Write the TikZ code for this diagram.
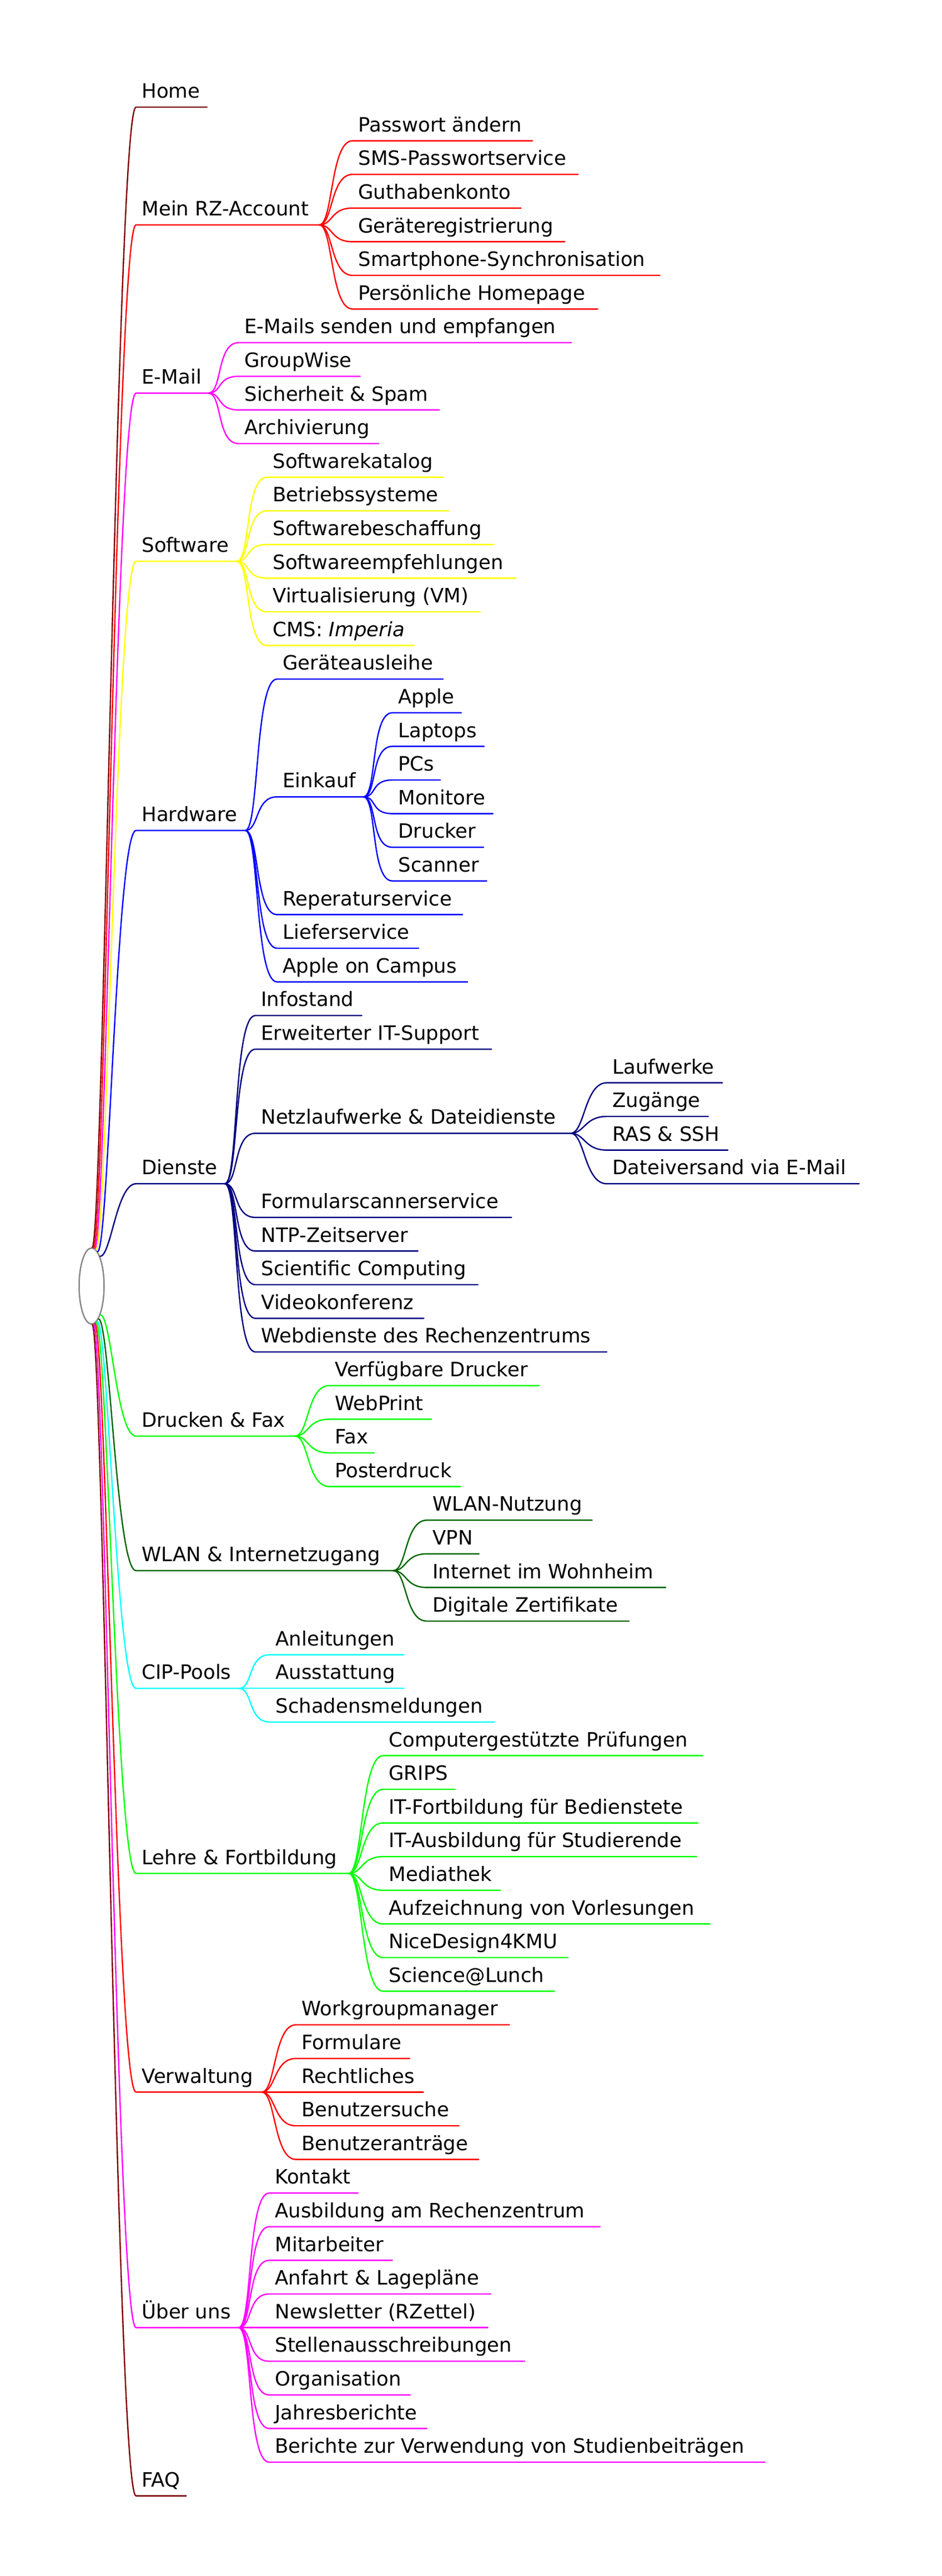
\documentclass[tikz,border=0pt]{standalone}
\usepackage{fontspec}
\setmainfont{DejaVu Sans}
\usetikzlibrary{shapes.geometric}
\definecolor{cMar}{HTML}{800000}
\definecolor{cRed}{HTML}{FF0000}
\definecolor{cMag}{HTML}{FF00FF}
\definecolor{cYel}{HTML}{FFFF00}
\definecolor{cBlu}{HTML}{0000FF}
\definecolor{cNav}{HTML}{000080}
\definecolor{cLim}{HTML}{00FF00}
\definecolor{cDkg}{HTML}{006600}
\definecolor{cCya}{HTML}{00FFFF}
\definecolor{cGry}{HTML}{888888}
\newbox\mmbx
\begin{document}
\begin{tikzpicture}[x=0.5pt, y=-30.3pt,
  mm/.style={anchor=south west, inner xsep=0pt, inner ysep=0pt, text height=14pt, text depth=8pt,
    font=\fontsize{17.8pt}{21pt}\selectfont,
    execute at begin node={\setbox\mmbx=\hbox\bgroup},
    execute at end node={\egroup\hspace*{5pt}\copy\mmbx\hspace*{\dimexpr 4.2pt+0.034\wd\mmbx\relax}}},
  ln/.style={line width=1.2pt, line cap=round, line join=round},
  cfork/.style={to path={.. controls +(25,0) and +(-40,0) .. (\tikztotarget)}},
  rfork/.style={to path={.. controls +(20,0) and +(-35,0) .. (\tikztotarget)}}]
\useasboundingbox (0,-3.185) rectangle (1697,73.383);
% level 1
\node[mm] (home) at (245,0) {Home};
\node[mm] (mein) at (245,3.5) {Mein RZ-Account};
\node[mm] (email) at (245,8.5) {E-Mail};
\node[mm] (soft) at (245,13.5) {Software};
\node[mm] (hard) at (245,21.5) {Hardware};
\node[mm] (dien) at (245,32) {Dienste};
\node[mm] (druck) at (245,39.5) {Drucken \& Fax};
\node[mm] (wlan) at (245,43.5) {WLAN \& Internetzugang};
\node[mm] (cip) at (245,47) {CIP-Pools};
\node[mm] (lehre) at (245,52.5) {Lehre \& Fortbildung};
\node[mm] (verw) at (245,59) {Verwaltung};
\node[mm] (ueber) at (245,66) {Über uns};
\node[mm] (faq) at (245,71) {FAQ};
% Mein RZ-Account
\node[mm] (pw) at (635,1) {Passwort ändern};
\node[mm] (sms) at (635,2) {SMS-Passwortservice};
\node[mm] (gut) at (635,3) {Guthabenkonto};
\node[mm] (ger) at (635,4) {Geräteregistrierung};
\node[mm] (smart) at (635,5) {Smartphone-Synchronisation};
\node[mm] (hp) at (635,6) {Persönliche Homepage};
% E-Mail
\node[mm] (em1) at (430,7) {E-Mails senden und empfangen};
\node[mm] (em2) at (430,8) {GroupWise};
\node[mm] (em3) at (430,9) {Sicherheit \& Spam};
\node[mm] (em4) at (430,10) {Archivierung};
% Software
\node[mm] (sw1) at (481,11) {Softwarekatalog};
\node[mm] (sw2) at (481,12) {Betriebssysteme};
\node[mm] (sw3) at (481,13) {Softwarebeschaffung};
\node[mm] (sw4) at (481,14) {Softwareempfehlungen};
\node[mm] (sw5) at (481,15) {Virtualisierung (VM)};
\node[mm] (sw6) at (481,16) {CMS: \textit{Imperia}};
% Hardware
\node[mm] (hw1) at (499,17) {Geräteausleihe};
\node[mm] (ek) at (499,20.5) {Einkauf};
\node[mm] (hw3) at (499,24) {Reperaturservice};
\node[mm] (hw4) at (499,25) {Lieferservice};
\node[mm] (hw5) at (499,26) {Apple on Campus};
\node[mm] (ek1) at (707,18) {Apple};
\node[mm] (ek2) at (707,19) {Laptops};
\node[mm] (ek3) at (707,20) {PCs};
\node[mm] (ek4) at (707,21) {Monitore};
\node[mm] (ek5) at (707,22) {Drucker};
\node[mm] (ek6) at (707,23) {Scanner};
% Dienste
\node[mm] (dn1) at (460,27) {Infostand};
\node[mm] (dn2) at (460,28) {Erweiterter IT-Support};
\node[mm] (netz) at (460,30.5) {Netzlaufwerke \& Dateidienste};
\node[mm] (dn4) at (460,33) {Formularscannerservice};
\node[mm] (dn5) at (460,34) {NTP-Zeitserver};
\node[mm] (dn6) at (460,35) {Scientific Computing};
\node[mm] (dn7) at (460,36) {Videokonferenz};
\node[mm] (dn8) at (460,37) {Webdienste des Rechenzentrums};
\node[mm] (nz1) at (1093,29) {Laufwerke};
\node[mm] (nz2) at (1093,30) {Zugänge};
\node[mm] (nz3) at (1093,31) {RAS \& SSH};
\node[mm] (nz4) at (1093,32) {Dateiversand via E-Mail};
% Drucken & Fax
\node[mm] (dr1) at (593,38) {Verfügbare Drucker};
\node[mm] (dr2) at (593,39) {WebPrint};
\node[mm] (dr3) at (593,40) {Fax};
\node[mm] (dr4) at (593,41) {Posterdruck};
% WLAN
\node[mm] (wl1) at (769,42) {WLAN-Nutzung};
\node[mm] (wl2) at (769,43) {VPN};
\node[mm] (wl3) at (769,44) {Internet im Wohnheim};
\node[mm] (wl4) at (769,45) {Digitale Zertifikate};
% CIP
\node[mm] (cp1) at (486,46) {Anleitungen};
\node[mm] (cp2) at (486,47) {Ausstattung};
\node[mm] (cp3) at (486,48) {Schadensmeldungen};
% Lehre
\node[mm] (le1) at (690,49) {Computergestützte Prüfungen};
\node[mm] (le2) at (690,50) {GRIPS};
\node[mm] (le3) at (690,51) {IT-Fortbildung für Bedienstete};
\node[mm] (le4) at (690,52) {IT-Ausbildung für Studierende};
\node[mm] (le5) at (690,53) {Mediathek};
\node[mm] (le6) at (690,54) {Aufzeichnung von Vorlesungen};
\node[mm] (le7) at (690,55) {NiceDesign4KMU};
\node[mm] (le8) at (690,56) {Science@Lunch};
% Verwaltung
\node[mm] (vw1) at (533,57) {Workgroupmanager};
\node[mm] (vw2) at (533,58) {Formulare};
\node[mm] (vw3) at (533,59) {Rechtliches};
\node[mm] (vw4) at (533,60) {Benutzersuche};
\node[mm] (vw5) at (533,61) {Benutzeranträge};
% Ueber uns
\node[mm] (ub1) at (485,62) {Kontakt};
\node[mm] (ub2) at (485,63) {Ausbildung am Rechenzentrum};
\node[mm] (ub3) at (485,64) {Mitarbeiter};
\node[mm] (ub4) at (485,65) {Anfahrt \& Lagepläne};
\node[mm] (ub5) at (485,66) {Newsletter (RZettel)};
\node[mm] (ub6) at (485,67) {Stellenausschreibungen};
\node[mm] (ub7) at (485,68) {Organisation};
\node[mm] (ub8) at (485,69) {Jahresberichte};
\node[mm] (ub9) at (485,70) {Berichte zur Verwendung von Studienbeiträgen};
% root
\node[ellipse, draw=cGry, line width=1.25pt, minimum width=22.5pt, minimum height=68.5pt, inner sep=0pt] (root) at (165,35.04) {};
% root edges
\draw[ln,cMar] (root.89) to[rfork] (home.south west) -- (home.south east);
\draw[ln,cRed] (root.87) to[rfork] (mein.south west) -- (mein.south east);
\draw[ln,cMag] (root.85) to[rfork] (email.south west) -- (email.south east);
\draw[ln,cYel] (root.83) to[rfork] (soft.south west) -- (soft.south east);
\draw[ln,cBlu] (root.80) to[rfork] (hard.south west) -- (hard.south east);
\draw[ln,cNav] (root.74) to[rfork] (dien.south west) -- (dien.south east);
\draw[ln,cLim] (root.-73) to[rfork] (druck.south west) -- (druck.south east);
\draw[ln,cDkg] (root.-78) to[rfork] (wlan.south west) -- (wlan.south east);
\draw[ln,cCya] (root.-81) to[rfork] (cip.south west) -- (cip.south east);
\draw[ln,cLim] (root.-83) to[rfork] (lehre.south west) -- (lehre.south east);
\draw[ln,cRed] (root.-85) to[rfork] (verw.south west) -- (verw.south east);
\draw[ln,cMag] (root.-87) to[rfork] (ueber.south west) -- (ueber.south east);
\draw[ln,cMar] (root.-89) to[rfork] (faq.south west) -- (faq.south east);
% child edges
\foreach \c in {pw,sms,gut,ger,smart,hp}
  \draw[ln,cRed] (mein.south east) to[cfork] (\c.south west) -- (\c.south east);
\foreach \c in {em1,em2,em3,em4}
  \draw[ln,cMag] (email.south east) to[cfork] (\c.south west) -- (\c.south east);
\foreach \c in {sw1,sw2,sw3,sw4,sw5,sw6}
  \draw[ln,cYel] (soft.south east) to[cfork] (\c.south west) -- (\c.south east);
\foreach \c in {hw1,ek,hw3,hw4,hw5}
  \draw[ln,cBlu] (hard.south east) to[cfork] (\c.south west) -- (\c.south east);
\foreach \c in {ek1,ek2,ek3,ek4,ek5,ek6}
  \draw[ln,cBlu] (ek.south east) to[cfork] (\c.south west) -- (\c.south east);
\foreach \c in {dn1,dn2,netz,dn4,dn5,dn6,dn7,dn8}
  \draw[ln,cNav] (dien.south east) to[cfork] (\c.south west) -- (\c.south east);
\foreach \c in {nz1,nz2,nz3,nz4}
  \draw[ln,cNav] (netz.south east) to[cfork] (\c.south west) -- (\c.south east);
\foreach \c in {dr1,dr2,dr3,dr4}
  \draw[ln,cLim] (druck.south east) to[cfork] (\c.south west) -- (\c.south east);
\foreach \c in {wl1,wl2,wl3,wl4}
  \draw[ln,cDkg] (wlan.south east) to[cfork] (\c.south west) -- (\c.south east);
\foreach \c in {cp1,cp2,cp3}
  \draw[ln,cCya] (cip.south east) to[cfork] (\c.south west) -- (\c.south east);
\foreach \c in {le1,le2,le3,le4,le5,le6,le7,le8}
  \draw[ln,cLim] (lehre.south east) to[cfork] (\c.south west) -- (\c.south east);
\foreach \c in {vw1,vw2,vw3,vw4,vw5}
  \draw[ln,cRed] (verw.south east) to[cfork] (\c.south west) -- (\c.south east);
\foreach \c in {ub1,ub2,ub3,ub4,ub5,ub6,ub7,ub8,ub9}
  \draw[ln,cMag] (ueber.south east) to[cfork] (\c.south west) -- (\c.south east);
\end{tikzpicture}
\end{document}
